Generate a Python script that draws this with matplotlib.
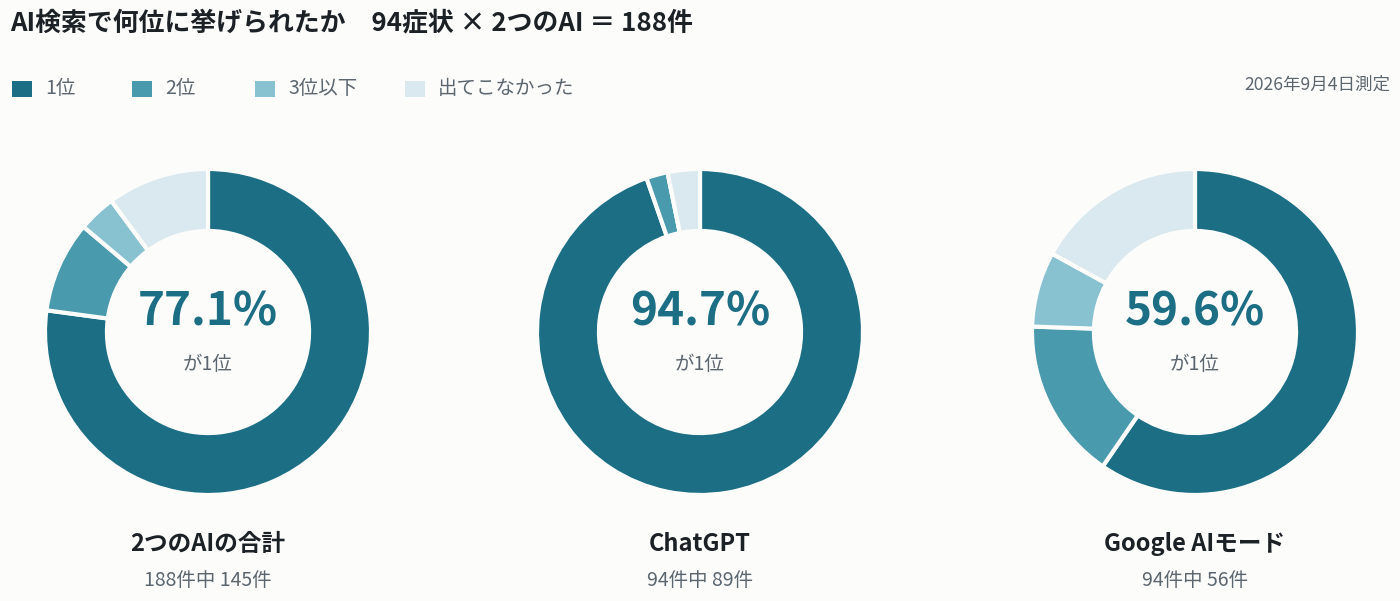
import matplotlib
matplotlib.use("Agg")
import matplotlib.pyplot as plt
from matplotlib.patches import Rectangle

plt.rcParams['font.family'] = ['Noto Sans CJK JP', 'DejaVu Sans']

# ---- data ----
categories = ["1位", "2位", "3位以下", "出てこなかった"]
chart_titles = ["2つのAIの合計", "ChatGPT", "Google AIモード"]
totals = [188, 94, 94]
total_vals = [145, 17, 7, 19]
chatgpt_vals = [89, 2, 0, 3]
google_vals = [56, 15, 7, 16]
center_labels = ["77.1%", "94.7%", "59.6%"]
title_text = "AI検索で何位に挙げられたか　94症状 × 2つのAI ＝ 188件"
date_text = "2026年9月4日測定"

series = [total_vals, chatgpt_vals, google_vals]

# ---- style ----
W, H = 1400, 601
bg = "#fcfcfb"
colors = ["#1b6e84", "#4a9aae", "#88c2d1", "#dae9ef"]
dark = "#1c2126"
grey = "#5c666e"

fig = plt.figure(figsize=(W / 100, H / 100), dpi=100, facecolor=bg)

def fx(x):
    return x / W

def fy(y):
    return 1 - y / H

# title
fig.text(fx(10), fy(23), title_text, fontsize=18.6, fontweight='bold',
         color=dark, ha='left', va='center')

# legend
leg_x = [12, 132, 255, 405]
for x, c, lab in zip(leg_x, colors, categories):
    fig.patches.append(Rectangle((fx(x), fy(97)), 20 / W, 16 / H,
                                 transform=fig.transFigure, facecolor=c,
                                 edgecolor='none'))
    fig.text(fx(x + 33), fy(89), lab, fontsize=14, color=grey,
             ha='left', va='center')

fig.text(fx(1390), fy(85), date_text, fontsize=12.6, color=grey,
         ha='right', va='center')

# donuts
centers_x = [208, 700, 1195]
cy = 332
R = 163
for cx, vals, clab, ttl, tot in zip(centers_x, series, center_labels,
                                      chart_titles, totals):
    ax = fig.add_axes([fx(cx - R), fy(cy + R), 2 * R / W, 2 * R / H])
    ax.set_facecolor(bg)
    ax.pie(vals, colors=colors, startangle=90, counterclock=False, radius=1,
           wedgeprops=dict(width=0.38, edgecolor=bg, linewidth=3))
    ax.set_xlim(-1.0, 1.0)
    ax.set_ylim(-1.0, 1.0)
    ax.axis('off')
    fig.text(fx(cx), fy(313), clab, fontsize=33, fontweight='bold',
             color=colors[0], ha='center', va='center')
    fig.text(fx(cx), fy(364), "が1位", fontsize=14, color=grey,
             ha='center', va='center')
    fig.text(fx(cx), fy(544), ttl, fontsize=17, fontweight='bold',
             color=dark, ha='center', va='center')
    fig.text(fx(cx), fy(581), f"{tot}件中 {vals[0]}件", fontsize=14,
             color=grey, ha='center', va='center')

fig.savefig("out.png", dpi=100, facecolor=bg)
